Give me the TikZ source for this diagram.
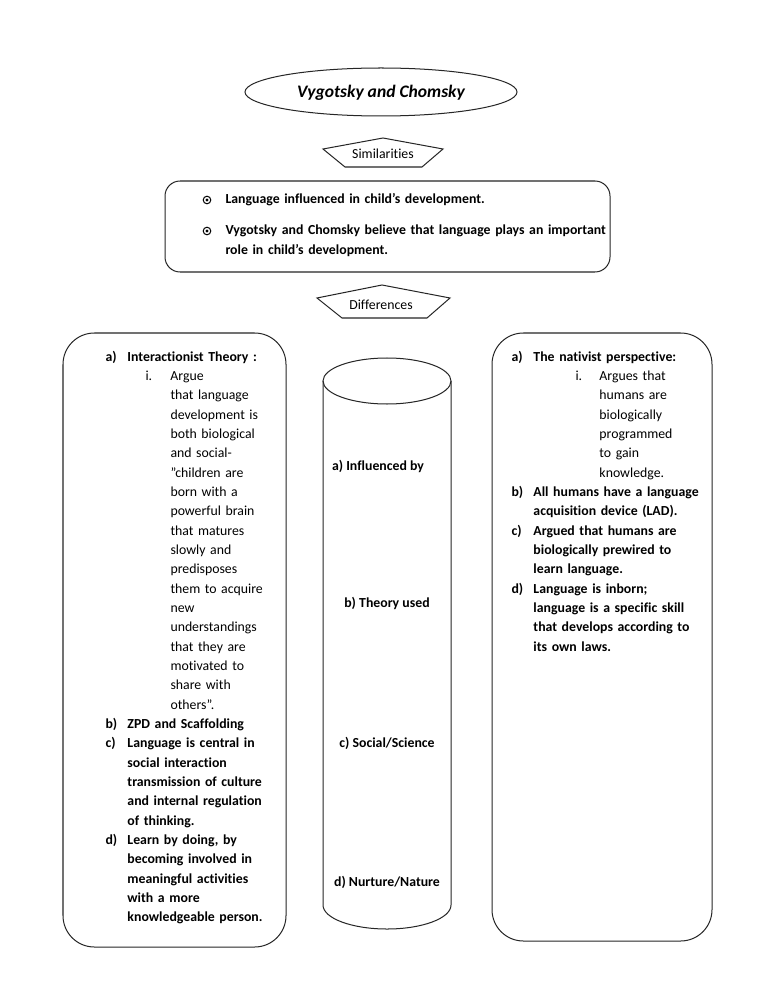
\documentclass[tikz,border=0pt]{standalone}
\usepackage{fontspec}
\setmainfont{Carlito}[Ligatures={TeX,NoCommon}]
\begin{document}
\begin{tikzpicture}[x=0.796875pt, y=-0.796875pt, line width=0.8pt,
  shapeline/.style={draw=black!85},
  box/.style={shapeline, rounded corners=12pt},
  bigbox/.style={shapeline, rounded corners=25pt},
  col/.style={anchor=base west, inner sep=0pt, text width=330pt, align=left, font=\fontsize{11pt}{15.41pt}\selectfont},
  lab/.style={anchor=base, inner sep=0pt, font=\bfseries\fontsize{11pt}{13pt}\selectfont},
  plainlab/.style={anchor=base, inner sep=0pt, font=\fontsize{11pt}{13pt}\selectfont}]
\useasboundingbox (0,0) rectangle (768,994);
\fill[white] (0,0) rectangle (768,994);

% title
\draw[shapeline] (381,92) ellipse [x radius=136, y radius=24];
\node (title) [anchor=base, inner sep=0pt, font=\bfseries\itshape\fontsize{14pt}{16pt}\selectfont] at (381,98) {Vygotsky and Chomsky};

% similarities label
\draw[shapeline] (383,138) -- (443,149) -- (422,167) -- (345,167) -- (323,149) -- cycle;
\node (simlab) [plainlab] at (383,159) {Similarities};

% similarities box
\draw[box] (165,181) rectangle (610,272);
\draw (207,200) circle [radius=3.8];
\fill (207,200) circle [radius=1.7];
\draw (207,231) circle [radius=3.8];
\fill (207,231) circle [radius=1.7];
\node (sim1) [col] at (225,204) {\textbf{Language influenced in child’s development.}};
\node (sim2) [col, font=\fontsize{11pt}{15.9pt}\selectfont] at (225,235) {\textbf{Vygotsky and Chomsky believe that language plays an important}\\\textbf{role in child’s development.}};

% differences label
\draw[shapeline] (382,285) -- (450,298) -- (427,318) -- (342,318) -- (317,298) -- cycle;
\node (difflab) [plainlab] at (381,309) {Differences};

% left box
\draw[bigbox] (63,333) rectangle (286,947);
\node (leftcol) [col] at (105,361) {%
\textbf{\makebox[17.5pt][l]{a)}Interactionist Theory :}\\
\hspace*{31.9pt}\makebox[19.9pt][l]{i.}Argue\\
\hspace*{51.8pt}that language\\
\hspace*{51.8pt}development is\\
\hspace*{51.8pt}both biological\\
\hspace*{51.8pt}and social-\\
\hspace*{51.8pt}"children are\\
\hspace*{51.8pt}born with a\\
\hspace*{51.8pt}powerful brain\\
\hspace*{51.8pt}that matures\\
\hspace*{51.8pt}slowly and\\
\hspace*{51.8pt}predisposes\\
\hspace*{51.8pt}them to acquire\\
\hspace*{51.8pt}new\\
\hspace*{51.8pt}understandings\\
\hspace*{51.8pt}that they are\\
\hspace*{51.8pt}motivated to\\
\hspace*{51.8pt}share with\\
\hspace*{51.8pt}others".\\
\textbf{\makebox[17.5pt][l]{b)}ZPD and Scaffolding}\\
\textbf{\makebox[17.5pt][l]{c)}Language is central in}\\
\textbf{\hspace*{17.5pt}social interaction}\\
\textbf{\hspace*{17.5pt}transmission of culture}\\
\textbf{\hspace*{17.5pt}and internal regulation}\\
\textbf{\hspace*{17.5pt}of thinking.}\\
\textbf{\makebox[17.5pt][l]{d)}Learn by doing, by}\\
\textbf{\hspace*{17.5pt}becoming involved in}\\
\textbf{\hspace*{17.5pt}meaningful activities}\\
\textbf{\hspace*{17.5pt}with a more}\\
\textbf{\hspace*{17.5pt}knowledgeable person.}};

% cylinder
\draw[shapeline] (387,381) ellipse [x radius=64, y radius=23];
\draw[shapeline] (323,381) -- (323,905) arc [start angle=180, end angle=0, x radius=64, y radius=24] -- (451,381);
\node (cyla) [lab] at (378,470) {a) Influenced by};
\node (cylb) [lab] at (387,607) {b) Theory used};
\node (cylc) [lab] at (387,747) {c) Social/Science};
\node (cyld) [lab] at (387,886) {d) Nurture/Nature};

% right box
\draw[bigbox] (492,333) rectangle (712,941);
\node (rightcol) [col] at (511,361) {%
\textbf{\makebox[17.5pt][l]{a)}The nativist perspective:}\\
\hspace*{51pt}\makebox[19.1pt][l]{i.}Argues that\\
\hspace*{70.1pt}humans are\\
\hspace*{70.1pt}biologically\\
\hspace*{70.1pt}programmed\\
\hspace*{70.1pt}to gain\\
\hspace*{70.1pt}knowledge.\\
\textbf{\makebox[17.5pt][l]{b)}All humans have a language}\\
\textbf{\hspace*{17.5pt}acquisition device (LAD).}\\
\textbf{\makebox[17.5pt][l]{c)}Argued that humans are}\\
\textbf{\hspace*{17.5pt}biologically prewired to}\\
\textbf{\hspace*{17.5pt}learn language.}\\
\textbf{\makebox[17.5pt][l]{d)}Language is inborn;}\\
\textbf{\hspace*{17.5pt}language is a specific skill}\\
\textbf{\hspace*{17.5pt}that develops according to}\\
\textbf{\hspace*{17.5pt}its own laws.}};
\end{tikzpicture}
\end{document}
